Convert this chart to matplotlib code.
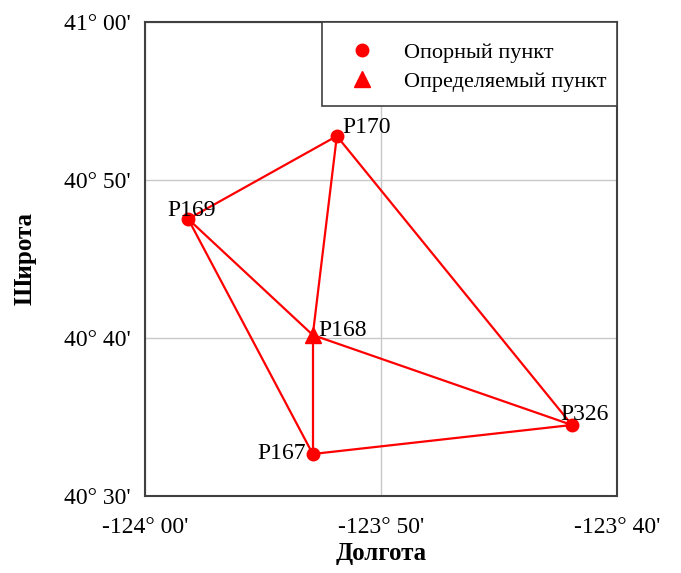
import matplotlib
matplotlib.use('Agg')
import matplotlib.pyplot as plt
from matplotlib.patches import Rectangle
from matplotlib.ticker import FixedLocator, FuncFormatter

# Координаты пунктов (градусы)
names = ['P169', 'P170', 'P168', 'P167', 'P326']
lon = [-123.9695, -123.8645, -123.8815, -123.8815, -123.6985]
lat = [40.7922, 40.8797, 40.6698, 40.5443, 40.5749]
is_control = [True, True, False, True, True]

# Линии сети
edges = [('P169', 'P170'), ('P170', 'P168'), ('P170', 'P326'), ('P169', 'P168'),
         ('P169', 'P167'), ('P168', 'P167'), ('P168', 'P326'), ('P167', 'P326')]

# Смещения подписей, пиксели
label_offsets = {'P169': (3, 8, 'center'), 'P170': (6, 9, 'left'), 'P168': (6, 5, 'left'),
                 'P167': (-7, 0, 'right'), 'P326': (-12, 10, 'left')}

x_ticks = [-124.0, -123 - 50 / 60, -123 - 40 / 60]
y_ticks = [40.5, 40 + 40 / 60, 40 + 50 / 60, 41.0]

c_red = '#ff0000'

plt.rcParams['font.family'] = ['Liberation Serif', 'DejaVu Serif']


def deg_min(v, pos=None):
    sign = '-' if v < 0 else ''
    a = abs(v)
    d = int(a + 1e-9)
    m = int(round((a - d) * 60))
    if m == 60:
        d += 1
        m = 0
    return sign + str(d) + '° ' + '%02d' % m + "'"


fig = plt.figure(figsize=(6.81, 5.73), dpi=100)
ax = fig.add_axes([0.2129, 0.1344, 0.6931, 0.8272])

idx = {n: i for i, n in enumerate(names)}
for a, b in edges:
    ax.plot([lon[idx[a]], lon[idx[b]]], [lat[idx[a]], lat[idx[b]]], color=c_red, linewidth=1.6, zorder=3)

ctrl_x = [lon[i] for i in range(len(names)) if is_control[i]]
ctrl_y = [lat[i] for i in range(len(names)) if is_control[i]]
det_x = [lon[i] for i in range(len(names)) if not is_control[i]]
det_y = [lat[i] for i in range(len(names)) if not is_control[i]]
ax.plot(ctrl_x, ctrl_y, 'o', color=c_red, markersize=9, linestyle='none', zorder=4, label='Опорный пункт')
ax.plot(det_x, det_y, '^', color=c_red, markersize=11, linestyle='none', zorder=4, label='Определяемый пункт')

for i, n in enumerate(names):
    dx, dy, ha = label_offsets[n]
    ax.annotate(n, (lon[i], lat[i]), xytext=(dx, dy), textcoords='offset pixels',
                ha=ha, va='center', fontsize=17, zorder=5)

ax.set_xlim(-124.0, -123 - 40 / 60)
ax.set_ylim(40.5, 41.0)
ax.xaxis.set_major_locator(FixedLocator(x_ticks))
ax.yaxis.set_major_locator(FixedLocator(y_ticks))
ax.xaxis.set_major_formatter(FuncFormatter(deg_min))
ax.yaxis.set_major_formatter(FuncFormatter(deg_min))
ax.tick_params(length=0, labelsize=17)
ax.tick_params(axis='x', pad=15)
ax.tick_params(axis='y', pad=10)
ax.grid(True, color='#c8c8c8', linewidth=1)
ax.set_axisbelow(True)
for s in ax.spines.values():
    s.set_color('#404040')
    s.set_linewidth(1.5)

ax.set_xlabel('Долгота', fontsize=18, fontweight='bold', labelpad=3)
ax.set_ylabel('Широта', fontsize=18, fontweight='bold', labelpad=20)

# рамка легенды
leg_box = Rectangle((0.375, 0.823), 0.625, 0.177, transform=ax.transAxes, facecolor='white',
                    edgecolor='#404040', linewidth=1.2, zorder=6)
ax.add_patch(leg_box)

leg = ax.legend(loc='upper right', bbox_to_anchor=(1.0, 1.0 - 10 / 474), borderaxespad=0,
                frameon=False, fontsize=16, handletextpad=0.5, borderpad=0.45,
                labelspacing=0.4, handlelength=2.8)
leg.set_zorder(7)

fig.savefig('out.png', dpi=100)
